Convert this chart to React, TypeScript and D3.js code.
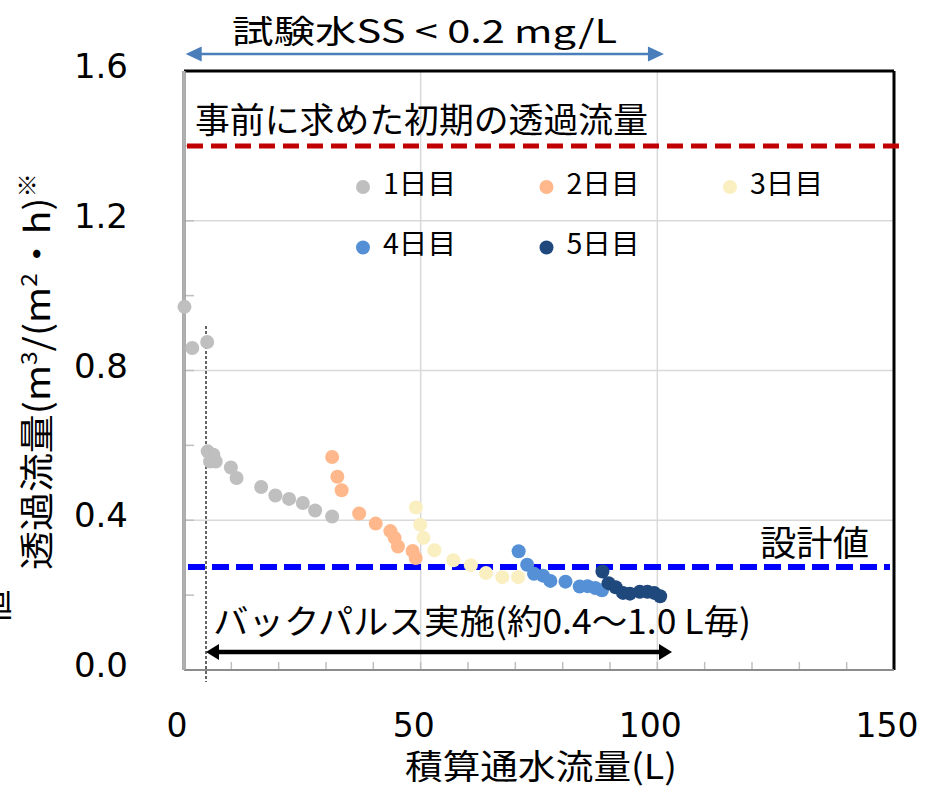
import React, { useEffect, useRef } from "react";
import * as d3 from "d3";

// 測定点 [積算通水流量(L), 透過流量(m3/(m2・h))]
const day1 = [
  [0.1, 0.97], [1.75, 0.86], [4.9, 0.876], [5.0, 0.584], [6.2, 0.575],
  [5.5, 0.557], [6.7, 0.557], [9.9, 0.541], [11.1, 0.513], [16.3, 0.489],
  [19.3, 0.466], [22.2, 0.457], [25.1, 0.446], [27.7, 0.426], [31.3, 0.41],
];
const day2 = [
  [31.3, 0.569], [32.4, 0.516], [33.3, 0.48], [37.0, 0.418], [40.5, 0.391],
  [43.6, 0.371], [44.5, 0.353], [45.2, 0.33], [48.3, 0.318], [48.95, 0.299],
];
const day3 = [
  [49.0, 0.434], [49.9, 0.388], [50.6, 0.353], [52.9, 0.32], [56.9, 0.293],
  [60.6, 0.28], [63.8, 0.259], [67.25, 0.248], [70.6, 0.248],
];
const day4 = [
  [70.7, 0.317], [72.5, 0.281], [73.95, 0.257], [75.85, 0.252], [77.4, 0.238],
  [80.6, 0.236], [83.6, 0.223], [85.25, 0.224], [86.9, 0.219], [88.3, 0.213],
];
const day5 = [
  [88.4, 0.263], [89.7, 0.232], [91.2, 0.221], [92.75, 0.206], [94.2, 0.204],
  [96.3, 0.209], [97.9, 0.209], [99.35, 0.206], [100.6, 0.197],
];

const series = [day1, day2, day3, day4, day5];
const seriesNames = ["1日目", "2日目", "3日目", "4日目", "5日目"];
const seriesColors = ["#BFBFBF", "#FFB88C", "#FAEFC0", "#5590D6", "#1F487C"];

const xTicks = [0, 50, 100, 150];
const xMinorTicks = d3.range(10, 150, 10);
const yTicks = [0, 0.4, 0.8, 1.2, 1.6];
const yMinorTicks = [0.2, 0.6, 1.0, 1.4];

const initialFlux = 1.4; // 事前に求めた初期の透過流量
const designFlux = 0.275; // 設計値
const ssRange = [0.35, 101.4]; // 試験水SS < 0.2 mg/L の範囲
const backpulseRange = [4.65, 103.1]; // バックパルス実施の範囲

const FONT = "'Noto Sans CJK JP', 'Noto Sans', sans-serif";
const NUM_FONT = "'DejaVu Sans', sans-serif";

export default function App() {
  const ref = useRef<SVGSVGElement>(null);

  useEffect(() => {
    const svg = d3.select(ref.current);
    svg.selectAll("*").remove();

    const x = d3.scaleLinear().domain([0, 150]).range([184, 894]);
    const y = d3.scaleLinear().domain([0, 1.6]).range([670, 71]);
    const [x0, x1] = x.range();
    const [y0, y1] = y.range();

    // gridlines
    const grid = svg.append("g");
    grid.selectAll(".hgrid")
      .data(yTicks.filter(d => d > 0 && d < 1.6))
      .join("line")
      .attr("x1", x0).attr("x2", x1)
      .attr("y1", d => y(d)).attr("y2", d => y(d))
      .attr("stroke", "#d9d9d9").attr("stroke-width", 1.5);
    grid.selectAll(".vgrid")
      .data(xTicks.filter(d => d > 0 && d < 150))
      .join("line")
      .attr("x1", d => x(d)).attr("x2", d => x(d))
      .attr("y1", y1).attr("y2", y0)
      .attr("stroke", "#d9d9d9").attr("stroke-width", 1.5);

    // minor ticks (inside)
    svg.append("g").selectAll("line")
      .data(xMinorTicks)
      .join("line")
      .attr("x1", d => x(d)).attr("x2", d => x(d))
      .attr("y1", y0).attr("y2", y0 - 8)
      .attr("stroke", "#bfbfbf").attr("stroke-width", 1.5);
    svg.append("g").selectAll("line")
      .data(yTicks.concat(yMinorTicks).filter(d => d > 0 && d < 1.6))
      .join("line")
      .attr("x1", x0).attr("x2", x0 + 10)
      .attr("y1", d => y(d)).attr("y2", d => y(d))
      .attr("stroke", "#bfbfbf").attr("stroke-width", 1.5);

    // frame
    svg.append("line")
      .attr("x1", x0).attr("x2", x1).attr("y1", y1).attr("y2", y1)
      .attr("stroke", "#000").attr("stroke-width", 3);
    svg.append("line")
      .attr("x1", x1).attr("x2", x1).attr("y1", y1).attr("y2", y0)
      .attr("stroke", "#000").attr("stroke-width", 3);
    svg.append("line")
      .attr("x1", x0).attr("x2", x1).attr("y1", y0).attr("y2", y0)
      .attr("stroke", "#8c8c8c").attr("stroke-width", 2);
    svg.append("line")
      .attr("x1", x0).attr("x2", x0).attr("y1", y1).attr("y2", y0)
      .attr("stroke", "#8f8f8f").attr("stroke-width", 3.5);
    svg.append("line")
      .attr("x1", x0).attr("x2", x0).attr("y1", y1).attr("y2", y0)
      .attr("stroke", "#d0d0d0").attr("stroke-width", 1);

    // tick labels
    svg.append("g").selectAll("text")
      .data(yTicks)
      .join("text")
      .attr("x", 128).attr("y", d => y(d) + 7)
      .attr("text-anchor", "end")
      .attr("font-family", NUM_FONT)
      .attr("font-size", 34)
      .text(d => d3.format(".1f")(d));
    svg.append("g").selectAll("text")
      .data(xTicks)
      .join("text")
      .attr("x", d => x(d) - 7).attr("y", 737)
      .attr("text-anchor", "middle")
      .attr("font-family", NUM_FONT)
      .attr("font-size", 33)
      .text(d => String(d));

    // reference lines
    svg.append("line")
      .attr("x1", x(0) + 3).attr("x2", x1 + 5)
      .attr("y1", y(initialFlux)).attr("y2", y(initialFlux))
      .attr("stroke", "#C00000").attr("stroke-width", 5)
      .attr("stroke-dasharray", "16,8");
    svg.append("line")
      .attr("x1", x(0) + 4).attr("x2", x1 - 4)
      .attr("y1", y(designFlux)).attr("y2", y(designFlux))
      .attr("stroke", "#0000FF").attr("stroke-width", 6)
      .attr("stroke-dasharray", "17,7");

    // backpulse start marker
    svg.append("line")
      .attr("x1", x(backpulseRange[0])).attr("x2", x(backpulseRange[0]))
      .attr("y1", 326).attr("y2", 682)
      .attr("stroke", "#000").attr("stroke-width", 1.2)
      .attr("stroke-dasharray", "3,2");

    // double-headed arrows
    const arrow = (xa: number, xb: number, yy: number, color: string, w: number, hl: number, hw: number) => {
      const g = svg.append("g");
      g.append("line")
        .attr("x1", xa + hl - 1).attr("x2", xb - hl + 1)
        .attr("y1", yy).attr("y2", yy)
        .attr("stroke", color).attr("stroke-width", w);
      g.append("path")
        .attr("d", `M${xa},${yy}L${xa + hl},${yy - hw}L${xa + hl},${yy + hw}Z`)
        .attr("fill", color);
      g.append("path")
        .attr("d", `M${xb},${yy}L${xb - hl},${yy - hw}L${xb - hl},${yy + hw}Z`)
        .attr("fill", color);
    };
    arrow(x(ssRange[0]), x(ssRange[1]), 54, "#4A7EBB", 2.5, 16, 7.5);
    arrow(x(backpulseRange[0]), x(backpulseRange[1]), 652, "#000", 4.5, 13, 8);

    // points
    series.forEach((pts, i) => {
      svg.append("g").selectAll("circle")
        .data(pts)
        .join("circle")
        .attr("cx", d => x(d[0]))
        .attr("cy", d => y(d[1]))
        .attr("r", 7)
        .attr("fill", seriesColors[i]);
    });

    // legend
    const legend = svg.append("g").selectAll("g")
      .data(seriesNames)
      .join("g")
      .attr("transform", (d, i) => `translate(${363 + (i % 3) * 183.5},${187 + Math.floor(i / 3) * 60.5})`);
    legend.append("circle")
      .attr("r", 7)
      .attr("fill", (d, i) => seriesColors[i]);
    legend.append("text")
      .attr("x", 20).attr("y", 6.5)
      .attr("font-size", 28)
      .attr("textLength", 73)
      .attr("lengthAdjust", "spacingAndGlyphs")
      .text(d => d);

    // annotations
    const label = (t: string, xx: number, yy: number, size: number, len: number) =>
      svg.append("text")
        .attr("x", xx).attr("y", yy)
        .attr("font-size", size)
        .attr("textLength", len)
        .attr("lengthAdjust", "spacingAndGlyphs")
        .text(t);
    label("試験水SS < 0.2 mg/L", 232, 43, 32, 385);
    label("事前に求めた初期の透過流量", 195, 133, 35, 453);
    label("設計値", 760, 556, 35, 109);
    label("バックパルス実施(約0.4～1.0 L毎)", 213, 634, 34, 538);
    label("積算通水流量(L)", 405, 779, 34, 272);

    // y-axis title
    const yt = svg.append("text")
      .attr("transform", "translate(50,570) rotate(-90)")
      .attr("font-size", 35)
      .attr("textLength", 397)
      .attr("lengthAdjust", "spacingAndGlyphs");
    yt.append("tspan").text("透過流量(m");
    yt.append("tspan").attr("dy", -13).attr("font-size", 22).text("3");
    yt.append("tspan").attr("dy", 13).text("/(m");
    yt.append("tspan").attr("dy", -13).attr("font-size", 22).text("2");
    yt.append("tspan").attr("dy", 13).text("・h)");
    yt.append("tspan").attr("dy", -15).attr("font-size", 22).text("※");

    // clipped label at left edge (as in the source figure)
    svg.append("text")
      .attr("transform", "translate(8,607) rotate(-90)")
      .attr("text-anchor", "middle")
      .attr("font-size", 35)
      .text("値");
  }, []);

  return (
    <svg
      ref={ref}
      width={937}
      height={790}
      style={{ position: "absolute", left: 0, top: 0, fontFamily: FONT, background: "#fff" }}
    />
  );
}
